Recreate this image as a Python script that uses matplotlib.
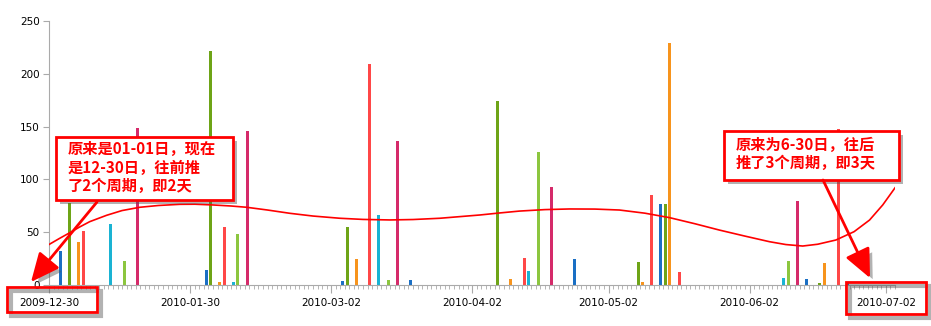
import numpy as np
import pandas as pd
import matplotlib
matplotlib.use("Agg")
import matplotlib.pyplot as plt
import matplotlib.patheffects as pe
from matplotlib.patches import Rectangle, FancyArrowPatch
from matplotlib.ticker import FixedLocator, MultipleLocator

# axis starts here, one tick per day
start = pd.Timestamp("2009-12-30")
tick_labels = ["2009-12-30", "2010-01-30", "2010-03-02", "2010-04-02",
               "2010-05-02", "2010-06-02", "2010-07-02"]

blue_dates = ["2010-01-01", "2010-02-02", "2010-03-04", "2010-03-19", "2010-04-24",
              "2010-05-13", "2010-06-14", "2010-06-23"]
blue_vals = [32, 14, 4, 5, 25, 77, 6, 1.5]

green_dates = ["2010-01-03", "2010-02-03", "2010-03-05", "2010-04-07", "2010-05-08",
               "2010-05-14", "2010-06-17"]
green_vals = [78, 222, 55, 174, 22, 77, 2]

orange_dates = ["2010-01-05", "2010-02-05", "2010-03-07", "2010-04-10", "2010-05-09",
                "2010-05-15", "2010-06-18"]
orange_vals = [41, 3, 25, 6, 3, 229, 21]

red_dates = ["2010-01-06", "2010-02-06", "2010-03-10", "2010-04-13", "2010-05-11",
             "2010-05-17", "2010-06-21"]
red_vals = [51, 55, 209, 26, 85, 12, 148]

cyan_dates = ["2010-01-12", "2010-02-08", "2010-03-12", "2010-04-14", "2010-06-09"]
cyan_vals = [58, 3, 66, 13, 7]

lime_dates = ["2010-01-15", "2010-02-09", "2010-03-14", "2010-04-16", "2010-06-10"]
lime_vals = [23, 48, 5, 126, 23]

pink_dates = ["2010-01-18", "2010-02-11", "2010-03-16", "2010-04-19", "2010-06-12"]
pink_vals = [149, 146, 136, 93, 80]

# trend curve (days after start, value)
curve_days = [0, 2.2, 4.5, 6.7, 8.9, 12.6, 16, 19.9, 24, 28.7, 32, 36, 40, 43.4, 48,
              52.9, 58, 63.9, 69, 74.9, 80, 85.9, 94.7, 99, 103.4, 109, 114.4, 120,
              125.4, 131, 136.4, 142, 147.4, 153, 158.4, 162, 165.7, 169, 173, 177,
              180.4, 183.3, 186]
curve_vals = [38.5, 44, 49.5, 55, 60, 66, 70.5, 73.6, 75.3, 76.4, 76.5, 75.8, 74.8,
              73.6, 71, 67.9, 65.3, 63.2, 62.1, 61.6, 62, 63.2, 66.3, 68.2, 70, 71.4,
              72, 71.9, 71, 68, 63.8, 58, 52, 46.3, 41, 38.3, 36.9, 38.6, 42.6, 50.5,
              61.5, 75.8, 92]

series = [
    (blue_dates, blue_vals, "#1a6fc4"),
    (green_dates, green_vals, "#6ea417"),
    (orange_dates, orange_vals, "#f7941d"),
    (red_dates, red_vals, "#ff4747"),
    (cyan_dates, cyan_vals, "#1ab3d3"),
    (lime_dates, lime_vals, "#8cc63f"),
    (pink_dates, pink_vals, "#d52a6a"),
]

def days(ds):
    return np.array((pd.to_datetime(ds) - start).days, dtype=float)

W, H = 931, 326
def fx(x):
    return x / W
def fy(y):
    return 1 - y / H

fig = plt.figure(figsize=(W / 100, H / 100), dpi=100)
ax = fig.add_axes([fx(49.3), fy(285), (895 - 49.3) / W, 264 / H])

for ds, vs, c in series:
    ax.bar(days(ds) + 0.5, vs, width=0.66, color=c, zorder=2, linewidth=0)

ax.plot(curve_days, curve_vals, color="#ff0000", lw=1.2, zorder=3)

ax.set_xlim(0, 186)
ax.set_ylim(0, 250)
ax.xaxis.set_major_locator(FixedLocator(days(tick_labels)))
ax.set_xticklabels(tick_labels)
ax.xaxis.set_minor_locator(MultipleLocator(1))
ax.set_yticks([0, 50, 100, 150, 200, 250])

grey = "#aaaaaa"
for s in ["top", "right"]:
    ax.spines[s].set_visible(False)
for s in ["left", "bottom"]:
    ax.spines[s].set_color(grey)
ax.tick_params(axis="x", which="major", length=6, color=grey, labelsize=7.5, pad=3)
ax.tick_params(axis="x", which="minor", length=3, color=grey)
ax.tick_params(axis="y", length=4, color=grey, labelsize=7.5, pad=3)

fill_shadow = [pe.withSimplePatchShadow(offset=(3, -3), shadow_rgbFace="#555555", alpha=0.45)]
line_shadow = [pe.SimpleLineShadow(offset=(3, -3), shadow_color="#555555", alpha=0.45,
                                   linewidth=3), pe.Normal()]
cjk = ["Noto Sans CJK SC", "DejaVu Sans"]

def box(x0, y0, x1, y1, fill):
    r = Rectangle((fx(x0), fy(y1)), (x1 - x0) / W, (y1 - y0) / H,
                  transform=fig.transFigure, facecolor="white" if fill else "none",
                  edgecolor="#ff0000", lw=2,
                  path_effects=fill_shadow if fill else line_shadow, zorder=5)
    fig.add_artist(r)

def arrow(x0, y0, x1, y1):
    a = FancyArrowPatch((fx(x0), fy(y0)), (fx(x1), fy(y1)), transform=fig.transFigure,
                        arrowstyle="-|>,head_length=1.1,head_width=0.5", mutation_scale=16,
                        color="#ff0000", lw=2, shrinkA=0, shrinkB=0,
                        path_effects=fill_shadow, zorder=6)
    fig.add_artist(a)

# left note
box(56, 137, 233, 200, True)
fig.text(fx(68), fy(141), "原来是01-01日，现在\n是12-30日，往前推\n了2个周期，即2天",
         color="#ff0000", fontsize=11, fontweight="bold", family=cjk,
         va="top", ha="left", linespacing=1.2, zorder=7)
arrow(97, 202, 31, 282)
box(7, 287, 97, 312, False)

# right note
box(724, 131, 899, 180, True)
fig.text(fx(736), fy(137), "原来为6-30日，往后\n推了3个周期，即3天",
         color="#ff0000", fontsize=11, fontweight="bold", family=cjk,
         va="top", ha="left", linespacing=1.15, zorder=7)
arrow(823, 180, 870, 278)
box(846, 282, 926, 314, False)

fig.savefig("out.png", dpi=100)
